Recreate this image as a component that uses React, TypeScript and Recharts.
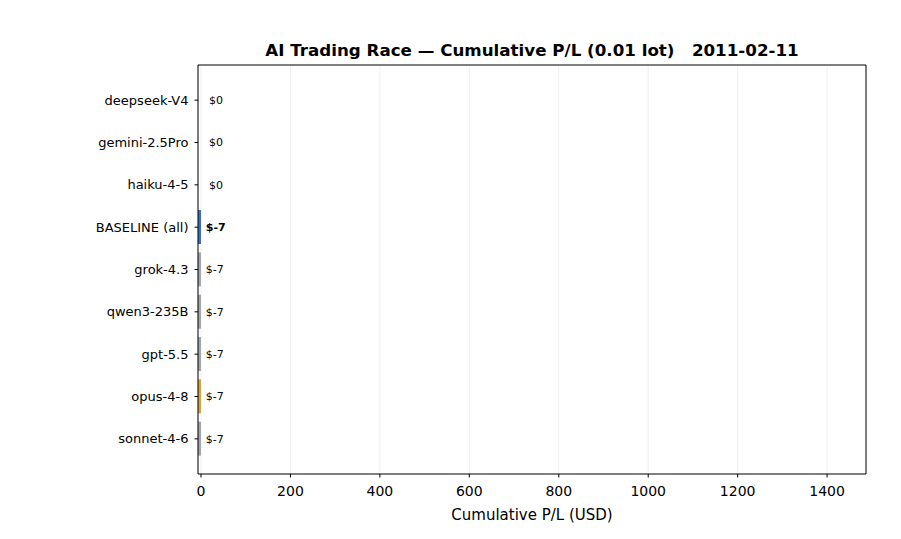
import React from "react";
import { ComposedChart, Bar, Scatter, XAxis, YAxis, CartesianGrid, Cell, ReferenceLine } from "recharts";

const models = ["deepseek-V4", "gemini-2.5Pro", "haiku-4-5", "BASELINE (all)", "grok-4.3", "qwen3-235B", "gpt-5.5", "opus-4-8", "sonnet-4-6"];
const pnl = [0, 0, 0, -7, -7, -7, -7, -7, -7];
const barColors = ["#a3a7ae", "#a3a7ae", "#a3a7ae", "#3a71bd", "#a3a7ae", "#a3a7ae", "#a3a7ae", "#d4a540", "#a3a7ae"];
const xTicks = [0, 200, 400, 600, 800, 1000, 1200, 1400];
const xDomain = [-6.7, 1487];
const title = "AI Trading Race \u2014 Cumulative P/L (0.01 lot)   2011-02-11";
const highlight = "BASELINE (all)";

const data = models.map((m, i) => ({ name: m, value: pnl[i], color: barColors[i] }));

const FONT = "'DejaVu Sans', sans-serif";

const ValueLabel = (props: any) => {
  const { cx, cy, payload } = props;
  if (cx == null || cy == null || !payload) return <g />;
  const bold = payload.name === highlight;
  return (
    <text
      x={Number(cx) + 8}
      y={Number(cy)}
      dy="0.35em"
      fontSize={11}
      fontFamily={FONT}
      fontWeight={bold ? "bold" : "normal"}
      fill="#000"
      textAnchor="start"
    >
      {"$" + payload.value}
    </text>
  );
};

export default function App() {
  return (
    <div style={{ position: "absolute", left: 0, top: 0, width: 901, height: 539, background: "#fff" }}>
      <div
        style={{
          position: "absolute",
          left: 198,
          width: 668,
          top: 40,
          textAlign: "center",
          fontFamily: FONT,
          fontWeight: "bold",
          fontSize: 16.7,
          lineHeight: "20px",
          whiteSpace: "pre",
          color: "#000",
        }}
      >
        {title}
      </div>
      <ComposedChart
        width={901}
        height={539}
        data={data}
        layout="vertical"
        margin={{ top: 64, right: 35, left: 0, bottom: 0 }}
        barCategoryGap={0}
      >
        <CartesianGrid horizontal={false} vertical={true} stroke="#ebebeb" strokeWidth={0.8} />
        <XAxis
          type="number"
          dataKey="value"
          domain={xDomain}
          allowDataOverflow
          ticks={xTicks}
          height={65}
          tickSize={3.5}
          tickMargin={9}
          tick={{ fill: "#000", fontSize: 14, fontFamily: FONT }}
          stroke="#000"
          tickLine={{ stroke: "#000" }}
          axisLine={{ stroke: "#000" }}
          label={{ value: "Cumulative P/L (USD)", position: "insideBottom", offset: 19, fill: "#000", fontSize: 15, fontFamily: FONT }}
        />
        <XAxis
          xAxisId="top"
          type="number"
          orientation="top"
          domain={xDomain}
          allowDataOverflow
          height={1}
          tick={false}
          tickLine={false}
          stroke="#000"
          axisLine={{ stroke: "#000" }}
        />
        <YAxis
          type="category"
          dataKey="name"
          width={198}
          padding={{ top: 14, bottom: 14 }}
          tickSize={3.5}
          tickMargin={6}
          tick={{ fill: "#000", fontSize: 13, fontFamily: FONT }}
          stroke="#000"
          tickLine={{ stroke: "#000" }}
          axisLine={{ stroke: "#000" }}
          interval={0}
        />
        <ReferenceLine x={xDomain[1]} stroke="#000" strokeWidth={1} />
        <Bar dataKey="value" barSize={34} isAnimationActive={false}>
          {data.map((d, i) => (
            <Cell key={i} fill={d.color} />
          ))}
        </Bar>
        <Scatter dataKey="value" isAnimationActive={false} shape={ValueLabel} />
      </ComposedChart>
    </div>
  );
}
